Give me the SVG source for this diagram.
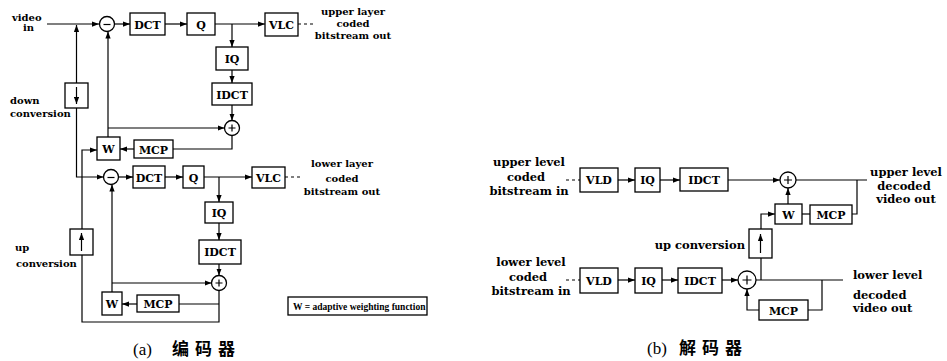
<svg xmlns="http://www.w3.org/2000/svg" width="947" height="361" viewBox="0 0 947 361">
<defs>
<marker id="a" viewBox="0 0 8 6" refX="8" refY="3" markerWidth="7" markerHeight="5.5" orient="auto" markerUnits="userSpaceOnUse"><path d="M0,0 L8,3 L0,6 z" fill="#000"/></marker>
<style>
.b{fill:#fff;stroke:#000;stroke-width:1.3}
.c{fill:#fff;stroke:#000;stroke-width:1.3}
.l{fill:none;stroke:#000;stroke-width:1.2}
.ar{fill:none;stroke:#000;stroke-width:1.2;marker-end:url(#a)}
.d{fill:none;stroke:#000;stroke-width:1.2;stroke-dasharray:3 3}
.t{font-family:"DejaVu Serif",serif;font-weight:bold;font-size:10px;fill:#000}
.bt{font-family:"DejaVu Serif",serif;font-weight:bold;font-size:11px;fill:#000;text-anchor:middle}
.td{font-family:"DejaVu Serif",serif;font-weight:bold;font-size:11.5px;fill:#000}
.lg{font-family:"Liberation Serif",serif;font-weight:bold;font-size:9.5px;fill:#000}
.cap{font-family:"Liberation Serif","Noto Sans CJK SC",serif;font-size:17px;fill:#000}
.cj{font-family:"Noto Sans CJK SC",sans-serif;font-weight:bold;font-size:17px;letter-spacing:6px;fill:#000}
.m{text-anchor:middle}
.e{text-anchor:end}
</style>
</defs>

<g id="connectors">
<!-- encoder upper -->
<path class="ar" d="M47,24 H99"/>
<path class="ar" d="M76.5,83 V25"/>
<path class="ar" d="M114.5,24 H130"/>
<path class="ar" d="M165,24 H187"/>
<path class="ar" d="M215,24 H265"/>
<path class="ar" d="M232,24 V47"/>
<path class="ar" d="M232,70 V83"/>
<path class="ar" d="M232,105 V120.5"/>
<path class="d" d="M298,24 H313"/>
<path class="ar" d="M108,137 V31.5"/>
<path class="ar" d="M108,128 H224.5"/>
<path class="l" d="M232,135.5 V149 H173"/>
<path class="ar" d="M134,149 H120"/>
<path class="ar" d="M82,229 V150 H97"/>
<!-- down conversion -->
<path class="ar" d="M76.5,108 V177 H103.5"/>
<!-- encoder lower -->
<path class="ar" d="M118.5,177 H133"/>
<path class="ar" d="M165,177 H183"/>
<path class="ar" d="M204,177 H252"/>
<path class="ar" d="M219,177 V202"/>
<path class="ar" d="M219,223 V240"/>
<path class="ar" d="M219,264 V275.5"/>
<path class="d" d="M285,177 H302"/>
<path class="ar" d="M112,292 V184.5"/>
<path class="ar" d="M112,283 H211.5"/>
<path class="l" d="M219,290.5 V322 H82 V255"/>
<path class="l" d="M219,304 H179"/>
<path class="ar" d="M137,304 H122"/>
<!-- decoder upper -->
<path class="d" d="M566,180 H580"/>
<path class="ar" d="M618,180 H635"/>
<path class="ar" d="M660,180 H680"/>
<path class="ar" d="M728,180 H780"/>
<path class="l" d="M796,180 H867"/>
<path class="l" d="M857,180 V214 H852"/>
<path class="l" d="M802,214 H810"/>
<path class="ar" d="M788,204 V188"/>
<path class="ar" d="M761,229 V214 H775"/>
<!-- decoder lower -->
<path class="d" d="M566,280 H580"/>
<path class="ar" d="M618,280 H635"/>
<path class="ar" d="M662,280 H678"/>
<path class="ar" d="M722,280 H738"/>
<path class="l" d="M756,280 H843"/>
<path class="l" d="M761,280 V258"/>
<path class="l" d="M822,280 V310 H808"/>
<path class="ar" d="M759,310 H747 V289"/>
</g>

<!-- encoder texts -->
<g id="video-in"><text class="t" x="12" y="21">video</text><text class="t" x="23" y="31">in</text></g>
<g id="down-conv-label"><text class="t" x="10" y="104">down</text><text class="t" x="10" y="117">conversion</text></g>
<g id="up-conv-label"><text class="t" x="15" y="251">up</text><text class="t" x="16" y="267">conversion</text></g>
<g id="upper-out-label"><text class="t m" x="353" y="15">upper layer</text><text class="t m" x="353" y="27">coded</text><text class="t m" x="353" y="39">bitstream out</text></g>
<g id="lower-out-label"><text class="t m" x="342" y="167">lower layer</text><text class="t m" x="342" y="182">coded</text><text class="t m" x="342" y="195">bitstream out</text></g>

<!-- encoder nodes -->
<g id="enc-sub1"><circle class="c" cx="107" cy="24" r="7.5"/><path class="l" d="M103.5,24.5 H110.5"/></g>
<g id="enc-dct1"><rect class="b" x="130" y="13" width="35" height="22"/><text class="bt" x="147.5" y="28.5">DCT</text></g>
<g id="enc-q1"><rect class="b" x="187" y="13" width="28" height="22"/><text class="bt" x="201" y="28.5">Q</text></g>
<g id="enc-vlc1"><rect class="b" x="265" y="13" width="33" height="23"/><text class="bt" x="281.5" y="28.5">VLC</text></g>
<g id="enc-iq1"><rect class="b" x="216" y="47" width="32" height="23"/><text class="bt" x="232" y="62.5">IQ</text></g>
<g id="enc-idct1"><rect class="b" x="212" y="83" width="40" height="22"/><text class="bt" x="232" y="98.5">IDCT</text></g>
<g id="enc-add1"><circle class="c" cx="232" cy="128" r="7.5"/><path class="l" d="M228.5,128 H235.5 M232,124.5 V131.5"/></g>
<g id="enc-w1"><rect class="b" x="97" y="137" width="23" height="23"/><text class="bt" x="108.5" y="153">W</text></g>
<g id="enc-mcp1"><rect class="b" x="134" y="140" width="39" height="18"/><text class="bt" x="153.5" y="153.5">MCP</text></g>
<g id="enc-down"><rect class="b" x="65" y="83" width="23" height="25"/><path class="ar" d="M76.5,87 V104"/></g>
<g id="enc-up"><rect class="b" x="70" y="229" width="23" height="26"/><path class="ar" d="M81.5,251 V233"/></g>
<g id="enc-sub2"><circle class="c" cx="111" cy="177" r="7.5"/><path class="l" d="M107.5,177.5 H114.5"/></g>
<g id="enc-dct2"><rect class="b" x="133" y="166" width="32" height="22"/><text class="bt" x="149" y="181.5">DCT</text></g>
<g id="enc-q2"><rect class="b" x="183" y="166" width="21" height="22"/><text class="bt" x="193.5" y="181.5">Q</text></g>
<g id="enc-vlc2"><rect class="b" x="252" y="167" width="33" height="21"/><text class="bt" x="268.5" y="181.5">VLC</text></g>
<g id="enc-iq2"><rect class="b" x="205" y="202" width="28" height="21"/><text class="bt" x="219" y="216.5">IQ</text></g>
<g id="enc-idct2"><rect class="b" x="199" y="240" width="42" height="24"/><text class="bt" x="220" y="256">IDCT</text></g>
<g id="enc-add2"><circle class="c" cx="219" cy="283" r="7.5"/><path class="l" d="M215.5,283 H222.5 M219,279.5 V286.5"/></g>
<g id="enc-w2"><rect class="b" x="102" y="292" width="20" height="23"/><text class="bt" x="112" y="308">W</text></g>
<g id="enc-mcp2"><rect class="b" x="137" y="295" width="42" height="17"/><text class="bt" x="158" y="308">MCP</text></g>
<g id="legend"><rect class="b" x="288" y="297" width="139" height="18"/><text class="lg" x="293" y="309.5">W  =  adaptive weighting function</text></g>
<g id="cap-a"><text class="cap" x="133" y="355">(a)</text><text class="cj" x="172" y="355">编码器</text></g>

<!-- decoder -->
<g id="dec-upper-in"><text class="td m" x="529" y="166">upper level</text><text class="td m" x="526" y="181">coded</text><text class="td m" x="529" y="195">bitstream in</text></g>
<g id="dec-lower-in"><text class="td m" x="531" y="266">lower level</text><text class="td m" x="528" y="281">coded</text><text class="td m" x="531" y="295">bitstream in</text></g>
<g id="dec-vld1"><rect class="b" x="580" y="168" width="38" height="24"/><text class="bt" x="599" y="184">VLD</text></g>
<g id="dec-iq1"><rect class="b" x="635" y="168" width="25" height="24"/><text class="bt" x="647.5" y="184">IQ</text></g>
<g id="dec-idct1"><rect class="b" x="680" y="168" width="48" height="23"/><text class="bt" x="704" y="184">IDCT</text></g>
<g id="dec-add1"><circle class="c" cx="788" cy="180" r="8"/><path class="l" d="M784,180 H792 M788,176 V184"/></g>
<g id="dec-w"><rect class="b" x="775" y="204" width="27" height="20"/><text class="bt" x="788.5" y="218.5">W</text></g>
<g id="dec-mcp1"><rect class="b" x="810" y="205" width="42" height="19"/><text class="bt" x="831" y="219">MCP</text></g>
<g id="dec-up"><rect class="b" x="749" y="229" width="23" height="29"/><path class="ar" d="M760.5,253 V234"/></g>
<g id="dec-up-label"><text class="td e" x="745" y="249">up conversion</text></g>
<g id="dec-upper-out"><text class="td m" x="906" y="176">upper level</text><text class="td m" x="904" y="190">decoded</text><text class="td m" x="906" y="203">video out</text></g>
<g id="dec-vld2"><rect class="b" x="580" y="268" width="38" height="25"/><text class="bt" x="599" y="284.5">VLD</text></g>
<g id="dec-iq2"><rect class="b" x="635" y="268" width="27" height="25"/><text class="bt" x="648.5" y="284.5">IQ</text></g>
<g id="dec-idct2"><rect class="b" x="678" y="268" width="44" height="25"/><text class="bt" x="700" y="284.5">IDCT</text></g>
<g id="dec-add2"><circle class="c" cx="747" cy="280" r="9"/><path class="l" d="M742.5,280 H751.5 M747,275.5 V284.5"/></g>
<g id="dec-mcp2"><rect class="b" x="759" y="300" width="49" height="20"/><text class="bt" x="783.5" y="314.5">MCP</text></g>
<g id="dec-lower-out"><text class="td" x="853" y="279">lower level</text><text class="td" x="853" y="299">decoded</text><text class="td" x="853" y="312">video out</text></g>
<g id="cap-b"><text class="cap" x="647" y="354">(b)</text><text class="cj" x="679" y="354">解码器</text></g>
</svg>
